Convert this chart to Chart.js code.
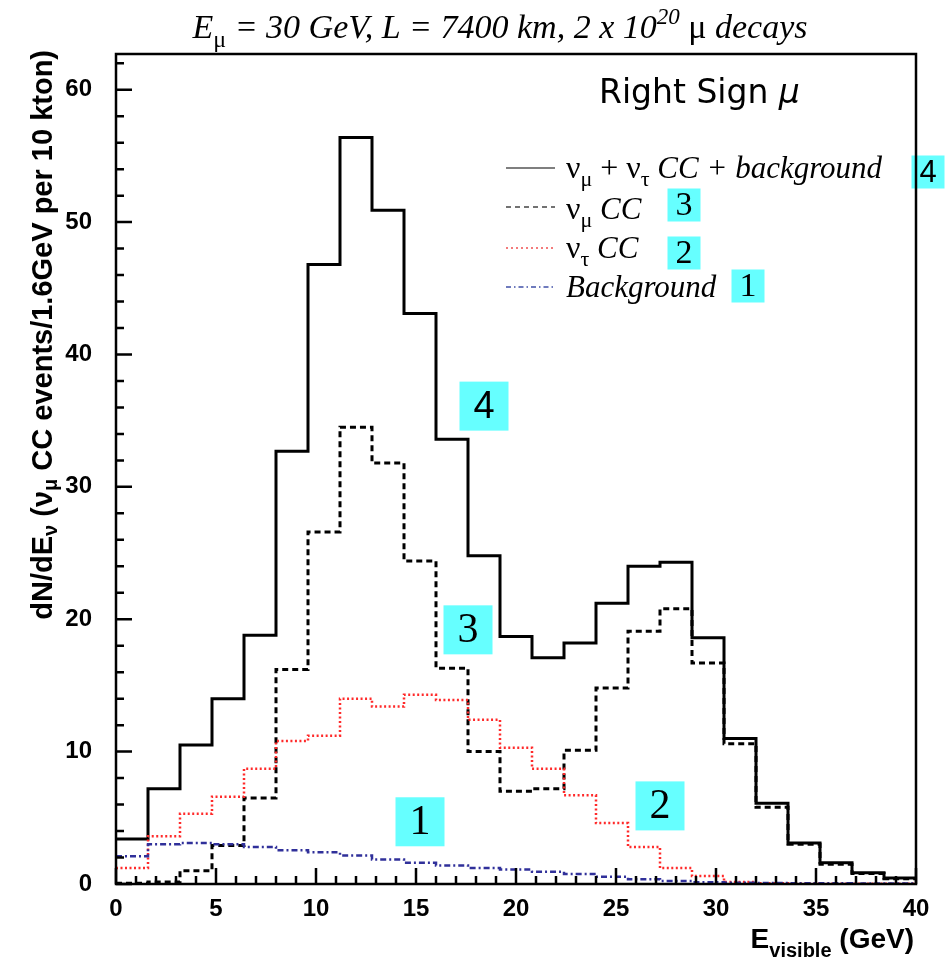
<!DOCTYPE html>
<html>
<head>
<meta charset="utf-8">
<script src="https://cdn.jsdelivr.net/npm/chart.js@4.4.0/dist/chart.umd.min.js"></script>
<style>
  body { margin: 0; background: #fff; }
  canvas { display: block; }
</style>
</head>
<body>
<canvas id="spectrum" width="948" height="959"></canvas>
<script>
// bin edges in GeV (1.6 GeV wide bins)
const binEdges = [0, 1.6, 3.2, 4.8, 6.4, 8.0, 9.6, 11.2, 12.8, 14.4, 16.0, 17.6, 19.2,
  20.8, 22.4, 24.0, 25.6, 27.2, 28.8, 30.4, 32.0, 33.6, 35.2, 36.8, 38.4, 40.0];

// events per bin
const totalEvents = [3.4, 7.2, 10.5, 14.0, 18.8, 32.7, 46.8, 56.4, 50.9, 43.1, 33.6, 24.8, 18.7,
  17.1, 18.2, 21.2, 24.0, 24.3, 18.6, 11.0, 6.1, 3.1, 1.6, 0.85, 0.45];
const numuCC = [0.05, 0.15, 1.0, 2.9, 6.5, 16.2, 26.6, 34.5, 31.8, 24.4, 16.3, 10.0, 7.0,
  7.2, 10.1, 14.8, 19.1, 20.8, 16.7, 10.6, 5.8, 3.0, 1.5, 0.8, 0.4];
const nutauCC = [1.2, 3.6, 5.3, 6.6, 8.7, 10.8, 11.2, 14.0, 13.4, 14.3, 13.9, 12.4, 10.3,
  8.7, 6.7, 4.6, 2.8, 1.2, 0.6, 0.15, 0.05, 0.03, 0.02, 0.01, 0.01];
const background = [2.1, 3.0, 3.1, 3.0, 2.8, 2.55, 2.4, 2.15, 1.85, 1.6, 1.4, 1.2, 1.1,
  0.93, 0.75, 0.55, 0.35, 0.22, 0.13, 0.1, 0.08, 0.06, 0.05, 0.04, 0.03];

const xTicks = [0, 5, 10, 15, 20, 25, 30, 35, 40];
const yTicks = [0, 10, 20, 30, 40, 50, 60];

// numbered tags: [label, x (GeV), y (events)]
const curveTags = [["4", 18.4, 36.1], ["3", 17.6, 19.2], ["1", 15.2, 4.7], ["2", 27.2, 5.9]];

const SERIF = '"Liberation Serif", "Times New Roman", serif';
const SANS = '"Liberation Sans", Arial, Helvetica, sans-serif';
const CYAN = '#66ffff';

// histogram outline: one point per lower edge, plus the last upper edge
function histPoints(values) {
  const pts = values.map((v, i) => ({ x: binEdges[i], y: v }));
  pts.push({ x: binEdges[binEdges.length - 1], y: values[values.length - 1] });
  return pts;
}

function richWidth(ctx, parts) {
  let w = 0;
  for (const p of parts) { ctx.font = p.font; w += ctx.measureText(p.t).width; }
  return w;
}

function drawRich(ctx, x, y, parts, align) {
  const w = richWidth(ctx, parts);
  if (align === 'right') x -= w;
  else if (align === 'center') x -= w / 2;
  ctx.textAlign = 'left';
  ctx.textBaseline = 'alphabetic';
  for (const p of parts) {
    ctx.font = p.font;
    ctx.fillText(p.t, x, y + (p.dy || 0));
    x += ctx.measureText(p.t).width;
  }
}

function tagBox(ctx, cx, cy, size, label, font) {
  ctx.fillStyle = CYAN;
  ctx.fillRect(cx - size / 2, cy - size / 2, size, size);
  ctx.fillStyle = '#000';
  ctx.font = font;
  ctx.textAlign = 'center';
  ctx.textBaseline = 'middle';
  ctx.fillText(label, cx, cy + 1);
}

const it = s => 'italic ' + s + 'px ' + SERIF;
const up = s => s + 'px ' + SERIF;
const bold = s => 'bold ' + s + 'px ' + SANS;

const decorations = {
  id: 'decorations',
  afterDatasetsDraw(chart) {
    const { ctx, chartArea: a, scales: { x, y } } = chart;
    ctx.save();

    // numbered tags on the curves
    curveTags.forEach(([lab, gx, gy]) => {
      const font = lab === '4' ? '38px ' + SANS : '42px ' + SERIF;
      tagBox(ctx, x.getPixelForValue(gx), y.getPixelForValue(gy), 49, lab, font);
    });

    // legend
    const rows = [
      { lineY: 168, base: 178, dash: [], color: '#000', w: 1.2, box: [928, 172, '4'],
        parts: [{ t: 'ν', font: up(32) }, { t: 'μ', font: up(22), dy: 8 }, { t: ' + ν', font: up(32) },
                { t: 'τ', font: up(22), dy: 8 }, { t: ' CC + background', font: it(31) }] },
      { lineY: 207, base: 219, dash: [5, 4], color: '#444', w: 1.5, box: [684, 205, '3'],
        parts: [{ t: 'ν', font: up(32) }, { t: 'μ', font: up(22), dy: 8 }, { t: ' CC', font: it(31) }] },
      { lineY: 248, base: 258, dash: [2, 3], color: '#f05050', w: 1.5, box: [684, 253, '2'],
        parts: [{ t: 'ν', font: up(32) }, { t: 'τ', font: up(22), dy: 8 }, { t: ' CC', font: it(31) }] },
      { lineY: 287, base: 297, dash: [5, 3, 1.5, 3], color: '#4050a8', w: 1.5, box: [748, 286, '1'],
        parts: [{ t: 'Background', font: it(31) }] }
    ];
    rows.forEach(r => {
      ctx.strokeStyle = r.color;
      ctx.lineWidth = r.w;
      ctx.setLineDash(r.dash);
      ctx.beginPath();
      ctx.moveTo(506, r.lineY);
      ctx.lineTo(555, r.lineY);
      ctx.stroke();
      ctx.setLineDash([]);
      ctx.fillStyle = '#000';
      drawRich(ctx, 566, r.base, r.parts, 'left');
      const font = r.box[2] === '4' ? '31px ' + SANS : '34px ' + SERIF;
      tagBox(ctx, r.box[0], r.box[1], 33, r.box[2], font);
    });

    // frame and inward tick marks
    ctx.strokeStyle = '#000';
    ctx.lineWidth = 2.5;
    ctx.strokeRect(a.left, a.top, a.right - a.left, a.bottom - a.top);
    ctx.beginPath();
    for (let g = 0; g <= 40; g += 1) {
      const px = x.getPixelForValue(g);
      const len = g % 5 === 0 ? 16 : 8;
      ctx.moveTo(px, a.bottom);
      ctx.lineTo(px, a.bottom - len);
    }
    for (let v = 0; v <= 62; v += 2) {
      const py = y.getPixelForValue(v);
      const len = v % 10 === 0 ? 16 : 8;
      ctx.moveTo(a.left, py);
      ctx.lineTo(a.left + len, py);
    }
    ctx.stroke();

    // titles
    ctx.fillStyle = '#000';
    drawRich(ctx, 500, 38, [
      { t: 'E', font: it(34) }, { t: 'μ', font: up(24), dy: 9 },
      { t: ' = 30 GeV, L = 7400 km, 2 x 10', font: it(34) },
      { t: '20', font: it(23), dy: -14 }, { t: ' μ', font: up(34) }, { t: ' decays', font: it(34) }
    ], 'center');

    drawRich(ctx, 599, 103, [
      { t: 'Right Sign ', font: '33px "DejaVu Sans", sans-serif' },
      { t: 'μ', font: 'oblique 33px "DejaVu Sans", sans-serif' }
    ], 'left');

    drawRich(ctx, 914, 948, [
      { t: 'E', font: bold(28) }, { t: 'visible', font: bold(20), dy: 9 }, { t: ' (GeV)', font: bold(28) }
    ], 'right');

    ctx.save();
    ctx.translate(52, 50);
    ctx.rotate(-Math.PI / 2);
    drawRich(ctx, 0, 0, [
      { t: 'dN/dE', font: bold(29) }, { t: 'ν', font: bold(20), dy: 5 },
      { t: ' (ν', font: bold(29) }, { t: 'μ', font: bold(20), dy: 5 },
      { t: ' CC events/1.6GeV per 10 kton)', font: bold(29) }
    ], 'right');
    ctx.restore();

    ctx.restore();
  }
};

const lineBase = { stepped: true, pointRadius: 0, fill: false, borderJoinStyle: 'miter', borderCapStyle: 'butt' };

new Chart(document.getElementById('spectrum'), {
  type: 'line',
  data: {
    datasets: [
      { ...lineBase, label: 'Background', data: histPoints(background),
        borderColor: '#30309a', borderWidth: 2.5, borderDash: [6, 3, 2, 3] },
      { ...lineBase, label: 'nu_tau CC', data: histPoints(nutauCC),
        borderColor: '#ff2a2a', borderWidth: 2.5, borderDash: [2, 2.5] },
      { ...lineBase, label: 'nu_mu CC', data: histPoints(numuCC),
        borderColor: '#000', borderWidth: 3, borderDash: [6, 4] },
      { ...lineBase, label: 'total', data: histPoints(totalEvents),
        borderColor: '#000', borderWidth: 3 }
    ]
  },
  options: {
    responsive: false,
    devicePixelRatio: 1,
    animation: false,
    layout: { padding: { top: 54, right: 32, left: 0, bottom: 0 } },
    plugins: { legend: { display: false }, tooltip: { enabled: false } },
    scales: {
      x: {
        type: 'linear', min: 0, max: 40,
        afterFit: s => { s.height = 75; },
        afterBuildTicks: s => { s.ticks = xTicks.map(v => ({ value: v })); },
        grid: { display: false }, border: { display: false },
        ticks: { color: '#000', font: { family: SANS, size: 24, weight: 'bold' }, padding: 3, maxRotation: 0 }
      },
      y: {
        type: 'linear', min: 0, max: 62.7,
        afterFit: s => { s.width = 116; },
        afterBuildTicks: s => { s.ticks = yTicks.map(v => ({ value: v })); },
        grid: { display: false }, border: { display: false },
        ticks: { color: '#000', font: { family: SANS, size: 24, weight: 'bold' }, padding: 16 }
      }
    }
  },
  plugins: [decorations]
});
</script>
</body>
</html>
